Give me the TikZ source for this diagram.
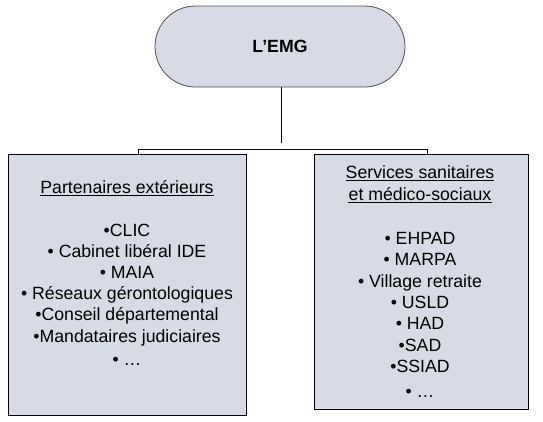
\documentclass[tikz,border=0pt]{standalone}
\usepackage{fontspec}
\setmainfont{Liberation Sans}
\definecolor{boxfill}{RGB}{214,219,229}
\definecolor{edgegray}{RGB}{80,80,80}
\begin{document}
\begin{tikzpicture}[x=1pt,y=-1pt,
  txt/.style={inner sep=0pt,anchor=base,font=\fontsize{17.7}{21}\selectfont},
  boxstyle/.style={draw=black,line width=1pt,fill=boxfill,inner sep=0pt,anchor=north west},
  ulstyle/.style={line width=0.9pt},
  link/.style={line width=1pt}]
\fill[white] (0,0) rectangle (543,421);
\useasboundingbox (0,0) rectangle (543,421);
% top stadium
\node[draw=edgegray,line width=0.8pt,fill=boxfill,rounded corners=40.5pt,
      minimum width=250pt,minimum height=81pt,inner sep=0pt] (emg) at (280,46.5) {};
\node[txt,font=\fontsize{17.7}{21}\selectfont\bfseries] (emgt) at (280,52) {L’EMG};
% boxes
\node[boxstyle,minimum width=238pt,minimum height=261pt] (lbox) at (8,154) {};
\node[boxstyle,minimum width=214pt,minimum height=255pt] (rbox) at (314,154) {};
% connectors
\coordinate (vend) at (281,143);
\coordinate (jl) at (138,149);
\coordinate (jr) at (427,149);
\draw[link] (emg.south -| vend) -- (vend);
\draw[link] (jl |- lbox.north) -- (jl) -- (jr) -- (jr |- rbox.north);
% left box text
\node[txt] (lt) at (127,193) {Partenaires extérieurs};
\draw[ulstyle] ([yshift=-2.6pt]lt.base west) -- ([yshift=-2.6pt]lt.base east);
\foreach \t [count=\i] in {{•CLIC},{• Cabinet libéral IDE},{• MAIA},{• Réseaux gérontologiques},{•Conseil départemental},{•Mandataires judiciaires}}
  \node[txt] (l\i) at (127,{236+21.2*(\i-1)}) {\t};
\node[txt] (l7) at (127,365) {• …};
% right box text
\node[txt] (rt1) at (420,178) {Services sanitaires\ };
\node[txt] (rt2) at (420,200) {et médico-sociaux};
\draw[ulstyle] ([yshift=-2.6pt]rt1.base west) -- ([yshift=-2.6pt]rt1.base east);
\draw[ulstyle] ([yshift=-2.6pt]rt2.base west) -- ([yshift=-2.6pt]rt2.base east);
\foreach \t [count=\i] in {{• EHPAD},{• MARPA},{• Village retraite},{• USLD},{• HAD},{•SAD},{•SSIAD}}
  \node[txt] (r\i) at (420,{244.5+21.3*(\i-1)}) {\t};
\node[txt] (r8) at (420,397) {• …};
\end{tikzpicture}
\end{document}
